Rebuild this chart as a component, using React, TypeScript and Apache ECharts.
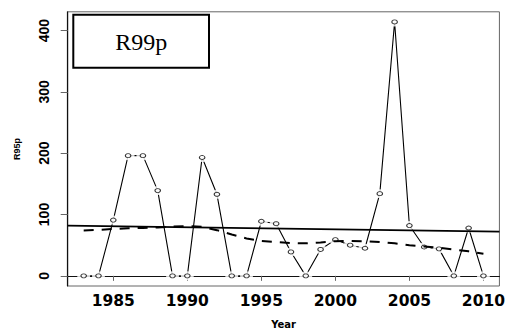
import React, { useEffect, useRef } from "react";
import * as echarts from "echarts";

// Annual R99p series with its linear trend and a smoothed curve
const years = [
  1983, 1984, 1985, 1986, 1987, 1988, 1989, 1990, 1991, 1992, 1993, 1994, 1995, 1996,
  1997, 1998, 1999, 2000, 2001, 2002, 2003, 2004, 2005, 2006, 2007, 2008, 2009, 2010,
];
const r99p = [
  0, 0, 91, 196, 196, 139, 0, 0, 193, 133, 0, 0, 89, 85,
  39, 0, 43, 59, 50, 45, 134, 414, 82, 47, 44, 0, 78, 0,
];
const smooth = [
  74, 75, 76.5, 77.5, 78, 79, 80.5, 81, 80, 74.5, 67.5, 61, 57, 55,
  53.5, 53, 54.5, 56.5, 57, 56.5, 55, 53, 50, 48, 46, 43, 40, 36,
];
// Linear trend, evaluated at the two ends of the x range
const trendX = [1981.92, 2011.08];
const trendY = [82, 72];

const xTicks = [1985, 1990, 1995, 2000, 2005, 2010];
const yTicks = [0, 100, 200, 300, 400];
const xRange = [1981.92, 2011.08];
const yRange = [-16.56, 430.56];

export default function App() {
  const ref = useRef<HTMLDivElement>(null);

  useEffect(() => {
    document.body.style.margin = "0";
    const chart = echarts.init(ref.current!, null, { renderer: "svg" });
    const pts = years.map((y, i) => [y, r99p[i]]);

    chart.setOption({
      animation: false,
      backgroundColor: "#fff",
      grid: {
        left: 67.7,
        right: 5,
        top: 11.8,
        bottom: 43.7,
        show: true,
        borderColor: "#666",
        borderWidth: 1,
        backgroundColor: "transparent",
      },
      xAxis: {
        type: "value",
        min: xRange[0],
        max: xRange[1],
        name: "Year",
        nameLocation: "middle",
        nameGap: 33,
        nameTextStyle: {
          fontFamily: "DejaVu Sans",
          fontWeight: "bold",
          fontSize: 10,
          color: "#000",
        },
        axisLine: { show: true, lineStyle: { color: "#111", width: 1.2 } },
        axisTick: {
          show: true,
          length: 5,
          customValues: xTicks,
          lineStyle: { color: "#666", width: 1 },
        },
        axisLabel: {
          customValues: xTicks,
          formatter: (v: number) => String(v),
          margin: 7,
          fontFamily: "DejaVu Sans",
          fontWeight: "bold",
          fontSize: 15.5,
          color: "#000",
        },
        splitLine: { show: false },
      },
      yAxis: {
        type: "value",
        min: yRange[0],
        max: yRange[1],
        name: "R95p",
        nameLocation: "middle",
        nameRotate: 90,
        nameGap: 46,
        nameTextStyle: {
          fontFamily: "Liberation Sans",
          fontWeight: "bold",
          fontSize: 9,
          color: "#000",
        },
        axisLine: { show: true, lineStyle: { color: "#111", width: 1.2 } },
        axisTick: {
          show: true,
          length: 7,
          customValues: yTicks,
          lineStyle: { color: "#666", width: 1 },
        },
        axisLabel: {
          customValues: yTicks,
          formatter: (v: number) => String(v),
          rotate: 90,
          align: "center",
          verticalAlign: "middle",
          margin: 23.5,
          fontFamily: "Liberation Sans",
          fontWeight: "bold",
          fontSize: 14,
          color: "#000",
        },
        splitLine: { show: false },
      },
      series: [
        {
          type: "line",
          data: pts,
          symbol: "none",
          lineStyle: { color: "#000", width: 1.1 },
          z: 2,
          silent: true,
        },
        {
          // white gap around each point, as in a "both" plot
          type: "scatter",
          data: pts,
          symbol: "circle",
          symbolSize: [13, 9],
          itemStyle: { color: "#fff", borderWidth: 0 },
          z: 3,
          silent: true,
        },
        {
          type: "scatter",
          data: pts,
          symbol: "circle",
          symbolSize: [5.5, 4],
          itemStyle: { color: "#fff", borderColor: "#000", borderWidth: 1 },
          z: 4,
          silent: true,
        },
        {
          type: "line",
          data: trendX.map((x, i) => [x, trendY[i]]),
          symbol: "none",
          lineStyle: { color: "#000", width: 1.8 },
          z: 5,
          silent: true,
        },
        {
          type: "line",
          data: years.map((y, i) => [y, smooth[i]]),
          symbol: "none",
          lineStyle: { color: "#000", width: 2, type: [10, 8] },
          z: 5,
          silent: true,
        },
      ],
      graphic: [
        {
          type: "rect",
          z: 10,
          shape: { x: 73.3, y: 14.7, width: 135.7, height: 53.1 },
          style: { fill: "#fff", stroke: "#000", lineWidth: 2 },
        },
        {
          type: "text",
          z: 11,
          style: {
            text: "R99p",
            x: 141.3,
            y: 42,
            fill: "#000",
            font: "24px 'Liberation Serif'",
            textAlign: "center",
            textVerticalAlign: "middle",
          },
        },
      ],
    });

    return () => chart.dispose();
  }, []);

  return <div ref={ref} style={{ width: 508, height: 334 }} />;
}
